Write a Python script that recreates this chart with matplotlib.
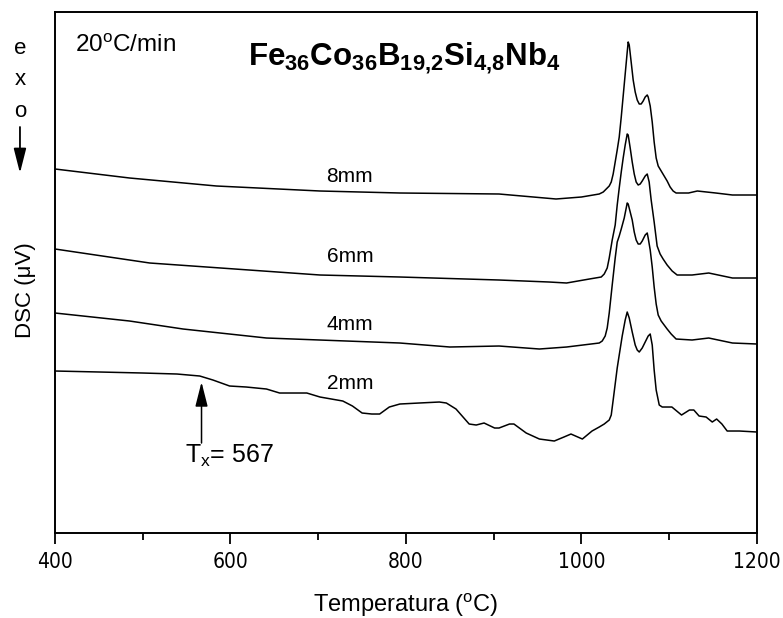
import matplotlib
matplotlib.use("Agg")
import matplotlib.pyplot as plt
from matplotlib.patches import FancyArrowPatch
from matplotlib.ticker import MultipleLocator, NullLocator

plt.rcParams['font.family'] = ['Liberation Sans', 'DejaVu Sans']
plt.rcParams['mathtext.fontset'] = 'custom'
plt.rcParams['mathtext.rm'] = 'Liberation Sans'
plt.rcParams['mathtext.it'] = 'Liberation Sans:italic'
plt.rcParams['mathtext.bf'] = 'Liberation Sans:bold'

# DSC scans (temperature in degC, signal in arbitrary microvolt units)
t_8mm = [400, 485, 584, 702, 793, 906, 971, 1000,
         1020.2, 1024.8, 1028.2, 1031.6, 1033.9, 1036.1, 1038.4, 1040.7, 1043.0, 1045.3,
         1047.5, 1049.8, 1052.1, 1053.2, 1054.4, 1056.6, 1058.9, 1061.2, 1063.5, 1065.8,
         1068.0, 1070.3, 1072.6, 1074.9, 1076.0, 1078.3, 1080.6, 1082.8, 1085.1, 1087.4,
         1090.8, 1094.2, 1097.6, 1101.0, 1104.4, 1107.8,
         1122, 1132, 1153, 1172, 1200]
s_8mm = [36.4, 35.5, 34.7, 34.2, 34.0, 33.9, 33.4, 33.6,
         33.9, 34.1, 34.4, 34.7, 35.1, 35.9, 37.1, 38.3, 39.6, 41.6,
         43.7, 45.9, 48.1, 49.1, 48.8, 47.1, 45.3, 44.1, 43.3, 42.9,
         42.9, 43.2, 43.6, 43.8, 43.6, 42.7, 41.1, 39.1, 37.5, 36.7,
         36.2, 35.7, 35.2, 34.6, 34.2, 34.0,
         34.0, 34.2, 34.0, 33.8, 33.8]

t_6mm = [400, 508, 702, 793, 906, 963, 983, 1009,
         1022.5, 1025.9, 1029.3, 1031.6, 1035.0, 1038.4, 1040.7, 1043.0, 1045.3, 1047.5,
         1049.8, 1052.1, 1053.2, 1055.5, 1057.8, 1060.1, 1062.3, 1064.6, 1066.9, 1069.2,
         1072.6, 1074.9, 1077.1, 1079.4, 1082.8, 1086.2, 1089.6, 1093.0, 1097.6, 1103.3,
         1109.0,
         1126, 1145, 1172, 1200]
s_6mm = [28.4, 27.0, 25.8, 25.6, 25.3, 25.1, 25.0, 25.4,
         25.6, 25.9, 26.5, 27.5, 29.3, 30.8, 32.8, 34.5, 36.1, 37.5,
         38.8, 39.9, 39.8, 38.5, 37.1, 35.9, 35.1, 34.8, 34.9, 35.2,
         35.7, 35.9, 35.1, 33.3, 31.1, 28.7, 27.9, 27.4, 26.8, 26.2,
         25.8,
         25.8, 26.0, 25.5, 25.5]

t_4mm = [400, 485, 546, 641, 793, 850, 906, 952, 983,
         1020.2, 1023.6, 1027.0, 1029.3, 1031.6, 1035.0, 1038.4, 1040.7, 1043.0, 1045.3,
         1048.7, 1052.1, 1053.2, 1055.5, 1057.8, 1060.1, 1062.3, 1064.6, 1066.9, 1069.2,
         1072.6, 1074.9, 1076.0, 1078.3, 1080.6, 1082.8, 1085.1, 1087.4, 1090.8, 1094.2,
         1097.6, 1102.2, 1107.8,
         1126, 1145, 1172, 1200]
s_4mm = [22.0, 21.2, 20.4, 19.5, 19.0, 18.6, 18.7, 18.4, 18.6,
         19.0, 19.2, 19.7, 20.5, 22.0, 24.8, 27.5, 29.1, 29.7, 30.4,
         31.5, 33.0, 32.9, 32.1, 31.3, 30.1, 29.3, 28.9, 28.9, 29.2,
         29.8, 30.0, 29.5, 28.3, 26.6, 24.6, 22.9, 21.8, 21.2, 20.8,
         20.4, 19.9, 19.4,
         19.3, 19.5, 19.0, 18.9]

t_2mm = [400, 451, 500, 539, 565, 580, 599, 618, 641, 656,
         687, 702, 728, 739, 750, 761, 770, 781, 793, 815,
         838, 846, 857, 872, 880, 889, 901, 906, 918, 923,
         937, 952, 969, 980, 988, 1001, 1012,
         1020.2, 1025.9, 1031.6, 1033.9, 1036.1, 1038.4, 1040.7, 1043.0, 1046.4, 1049.8,
         1052.1, 1054.4, 1057.8, 1061.2, 1063.5, 1065.8, 1069.2, 1072.6, 1076.0, 1078.3,
         1080.6, 1082.8, 1085.1, 1088.6, 1092.0,
         1103, 1114, 1123, 1128, 1134, 1142, 1149, 1154, 1160, 1166,
         1180, 1200]
s_2mm = [16.2, 16.1, 16.0, 15.9, 15.7, 15.3, 14.7, 14.6, 14.4, 14.0,
         14.0, 13.6, 13.2, 12.7, 12.0, 11.9, 11.9, 12.6, 12.9, 13.0,
         13.1, 13.0, 12.4, 10.9, 10.8, 11.0, 10.5, 10.5, 10.9, 10.9,
         10.0, 9.4, 9.2, 9.6, 9.9, 9.4, 10.2,
         10.6, 10.9, 11.3, 11.8, 13.3, 14.9, 16.5, 17.8, 19.7, 21.3,
         22.1, 21.5, 20.1, 18.8, 18.3, 18.1, 18.5, 19.1, 19.7, 19.9,
         18.8, 16.3, 14.3, 12.8, 12.6,
         12.6, 11.8, 12.3, 12.3, 11.7, 11.6, 11.1, 11.4, 10.9, 10.2,
         10.2, 10.1]

curve_labels = ['8mm', '6mm', '4mm', '2mm']
label_t = 736
label_s = [35.7, 27.7, 20.9, 15.0]

tx_value = 567
tx_arrow_from = 9.0
tx_arrow_to = 15.1

ARROW = '-|>,head_length=1.5,head_width=0.38'

fig = plt.figure(figsize=(7.83, 6.18), dpi=100)
ax = fig.add_axes([0.0702, 0.1375, 0.8966, 0.8431])

for t, s in [(t_8mm, s_8mm), (t_6mm, s_6mm), (t_4mm, s_4mm), (t_2mm, s_2mm)]:
    ax.plot(t, s, color='black', lw=1.1, solid_joinstyle='round')

for lab, ys in zip(curve_labels, label_s):
    ax.text(label_t, ys, lab, ha='center', va='center', fontsize=15)

ax.annotate('', xy=(tx_value, tx_arrow_to), xytext=(tx_value, tx_arrow_from),
            arrowprops=dict(arrowstyle=ARROW, mutation_scale=10, color='black',
                            lw=1.1, shrinkA=0, shrinkB=0))
ax.text(548, 7.0, r'T$_{\mathrm{x}}$= %d' % tx_value, ha='left',
        va='baseline', fontsize=18)

ax.text(0.0285, 0.923, r'20$^{\mathrm{o}}$C/min', transform=ax.transAxes,
        ha='left', va='baseline', fontsize=17.5)
ax.text(0.497, 0.898,
        r'$\mathbf{Fe_{36}Co_{36}B_{19{,}2}Si_{4{,}8}Nb_{4}}$',
        transform=ax.transAxes, ha='center', va='baseline', fontsize=22.5)

ax.set_xlim(400, 1200)
ax.set_ylim(0, 52.1)
ax.xaxis.set_major_locator(MultipleLocator(200))
ax.xaxis.set_minor_locator(MultipleLocator(100))
ax.yaxis.set_major_locator(NullLocator())
ax.tick_params(axis='x', which='major', direction='out', length=8, width=1.3,
               labelsize=15, pad=6)
ax.tick_params(axis='x', which='minor', direction='out', length=5, width=1.3)
for lab in ax.get_xticklabels():
    lab.set_family('DejaVu Sans')
    lab.set_stretch('condensed')
for sp in ax.spines.values():
    sp.set_linewidth(1.4)

ax.set_xlabel(r'Temperatura ($^{\mathrm{o}}$C)', fontsize=17, labelpad=14)
ax.set_ylabel('DSC (\u03bcV)', fontsize=16)
ax.yaxis.set_label_coords(-0.027, 0.466)

# exotherm direction marker
for ch, yf in zip('exo', [0.922, 0.872, 0.820]):
    fig.text(0.0255, yf, ch, ha='center', va='center', fontsize=16)
fig.add_artist(FancyArrowPatch(
    (0.0255, 0.7945), (0.0255, 0.720), transform=fig.transFigure,
    arrowstyle=ARROW, mutation_scale=10, color='black', lw=1.3,
    shrinkA=0, shrinkB=0))

fig.savefig('out.png', dpi=100)
